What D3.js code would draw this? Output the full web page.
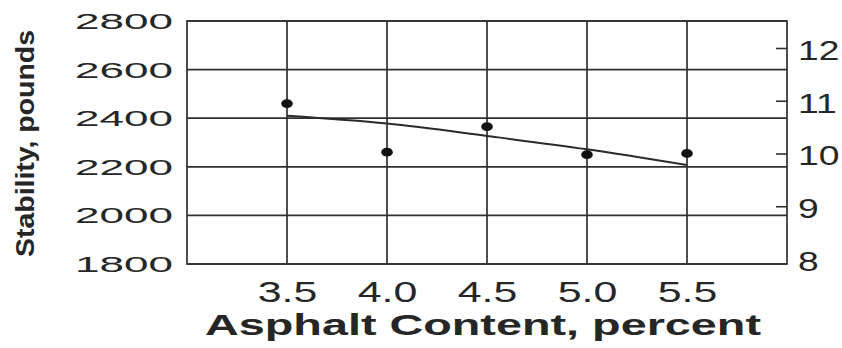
<!DOCTYPE html>
<html>
<head>
<meta charset="utf-8">
<script src="https://cdn.jsdelivr.net/npm/d3@7"></script>
<style>
  html, body { margin: 0; padding: 0; background: #fff; }
  svg { display: block; }
  text { font-family: "Liberation Sans", Arial, Helvetica, sans-serif; fill: #262626; }
</style>
</head>
<body>
<svg id="chart" width="842" height="348"></svg>
<script>
// Asphalt content (percent) at which specimens were tested
const contentTicks = [3.5, 4.0, 4.5, 5.0, 5.5];
// Left axis: Marshall stability, pounds
const stabilityTicks = [1800, 2000, 2200, 2400, 2600, 2800];
// Right axis scale values
const rightTicks = [8, 9, 10, 11, 12];
// Measured stability for each specimen
const measuredContent = [3.5, 4.0, 4.5, 5.0, 5.5];
const measuredStability = [2460, 2260, 2365, 2250, 2255];
// Smoothed trend curve through the results
const fitContent = [3.5, 4.0, 4.5, 5.0, 5.5];
const fitStability = [2410, 2378, 2327, 2272, 2207];
const xTitle = "Asphalt Content, percent";
const yTitle = "Stability, pounds";

const svg = d3.select("#chart");
const plot = { left: 187, right: 787, top: 21, bottom: 264 };

const x = d3.scaleLinear().domain([3, 6]).range([plot.left, plot.right]);
const y = d3.scaleLinear().domain([1800, 2800]).range([plot.bottom, plot.top]);
const yRight = d3.scaleLinear().domain([8, 12]).range([259, 48]);

const ink = "#303030";

// widen glyphs horizontally by factor k (the lettering is set in an extended face)
function stretch(sel, k) {
  sel.each(function () {
    const w = this.getComputedTextLength();
    d3.select(this).attr("textLength", w * k).attr("lengthAdjust", "spacingAndGlyphs");
  });
}

// grid
const grid = svg.append("g").attr("stroke", ink).attr("stroke-width", 1.7).attr("fill", "none");
grid.selectAll("line.h").data(stabilityTicks).join("line")
  .attr("class", "h")
  .attr("x1", plot.left).attr("x2", plot.right)
  .attr("y1", d => y(d)).attr("y2", d => y(d));
grid.selectAll("line.v").data(contentTicks).join("line")
  .attr("class", "v")
  .attr("y1", plot.top).attr("y2", plot.bottom)
  .attr("x1", d => x(d)).attr("x2", d => x(d));
grid.append("rect")
  .attr("x", plot.left).attr("y", plot.top)
  .attr("width", plot.right - plot.left).attr("height", plot.bottom - plot.top);

// left axis labels
const leftAxis = svg.append("g")
  .attr("transform", `translate(${plot.left},0)`)
  .call(d3.axisLeft(y).tickValues(stabilityTicks).tickFormat(d3.format("d")).tickSize(0).tickPadding(14));
leftAxis.select(".domain").remove();
leftAxis.selectAll("text")
  .attr("font-size", 22).attr("fill", "#262626").attr("dy", "0.34em")
  .call(stretch, 2.0);

// bottom axis labels
const bottomAxis = svg.append("g")
  .attr("transform", `translate(0,${plot.bottom})`)
  .call(d3.axisBottom(x).tickValues(contentTicks).tickFormat(d3.format(".1f")).tickSize(0).tickPadding(17));
bottomAxis.select(".domain").remove();
bottomAxis.selectAll("text")
  .attr("font-size", 29).attr("fill", "#262626")
  .call(stretch, 1.48);

// right axis with inward ticks
const rightAxis = svg.append("g")
  .attr("transform", `translate(${plot.right},0)`)
  .call(d3.axisRight(yRight).tickValues(rightTicks).tickFormat(d3.format("d"))
    .tickSizeInner(-11).tickSizeOuter(0).tickPadding(11));
rightAxis.select(".domain").remove();
rightAxis.selectAll(".tick line")
  .attr("stroke", ink).attr("stroke-width", 1.6)
  .filter(d => d === yRight.domain()[0]).remove();
rightAxis.selectAll("text")
  .attr("font-size", 27).attr("fill", "#262626").attr("dy", "0.42em")
  .call(stretch, 1.38);

// trend curve
const line = d3.line()
  .x((d, i) => x(fitContent[i]))
  .y(d => y(d))
  .curve(d3.curveMonotoneX);
svg.append("path")
  .datum(fitStability)
  .attr("d", line)
  .attr("fill", "none")
  .attr("stroke", "#2a2a2a")
  .attr("stroke-width", 2);

// measured points
svg.append("g").selectAll("ellipse")
  .data(measuredStability)
  .join("ellipse")
  .attr("cx", (d, i) => x(measuredContent[i]))
  .attr("cy", d => y(d))
  .attr("rx", 5.8).attr("ry", 4.4)
  .attr("fill", "#111");

// axis titles
svg.append("text")
  .attr("x", 483).attr("y", 335)
  .attr("text-anchor", "middle")
  .attr("font-size", 30).attr("font-weight", "bold")
  .attr("textLength", 556).attr("lengthAdjust", "spacingAndGlyphs")
  .text(xTitle);

svg.append("text")
  .attr("transform", "translate(34,143.5) rotate(-90)")
  .attr("text-anchor", "middle")
  .attr("font-size", 26).attr("font-weight", "bold")
  .attr("textLength", 227).attr("lengthAdjust", "spacingAndGlyphs")
  .text(yTitle);
</script>
</body>
</html>
